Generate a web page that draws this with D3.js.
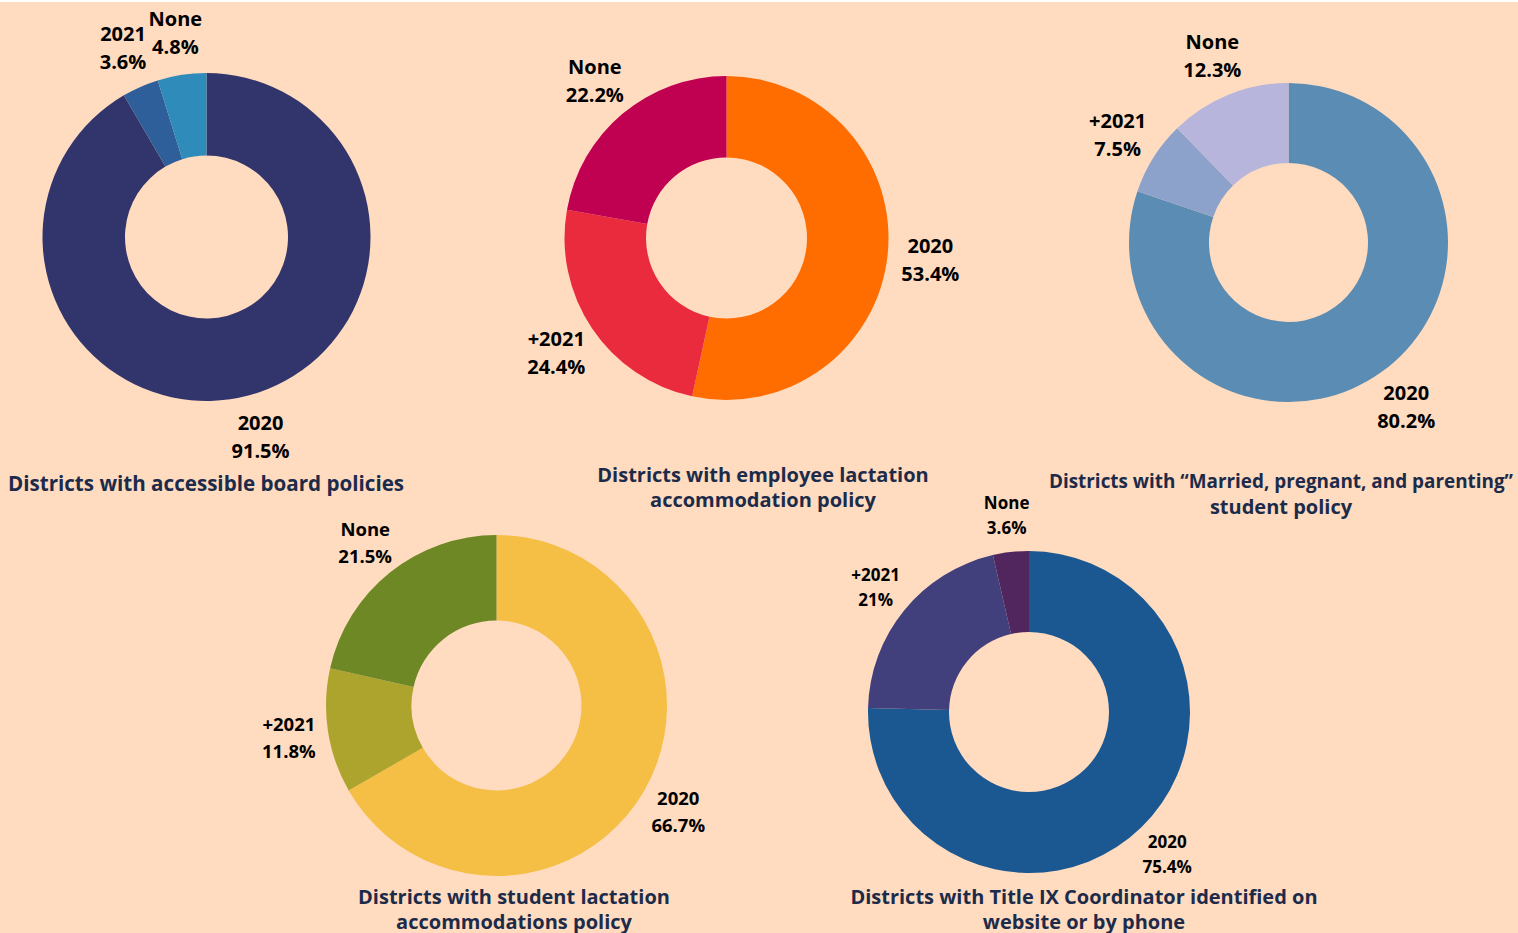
<!DOCTYPE html>
<html>
<head>
<meta charset="utf-8">
<title>District policies</title>
<script src="https://cdn.jsdelivr.net/npm/d3@7"></script>
<style>
  html, body { margin: 0; padding: 0; background: #ffffff; }
  svg { display: block; }
  .lbl { font-family: "Open Sans", sans-serif; font-weight: 700; fill: #000; }
  .ttl { font-family: "Open Sans", sans-serif; font-weight: 700; fill: #1c2b4a; }
</style>
</head>
<body>
<script>
// chart data
const categories = [
  ["2020", "2021", "None"],
  ["2020", "+2021", "None"],
  ["2020", "+2021", "None"],
  ["2020", "+2021", "None"],
  ["2020", "+2021", "None"]
];
const values = [
  [91.5, 3.6, 4.8],
  [53.4, 24.4, 22.2],
  [80.2, 7.5, 12.3],
  [66.7, 11.8, 21.5],
  [75.4, 21, 3.6]
];
const valueLabels = [
  ["91.5%", "3.6%", "4.8%"],
  ["53.4%", "24.4%", "22.2%"],
  ["80.2%", "7.5%", "12.3%"],
  ["66.7%", "11.8%", "21.5%"],
  ["75.4%", "21%", "3.6%"]
];
const colors = [
  ["#31356b", "#2e5f9a", "#2e8bba"],
  ["#ff6d00", "#ea2a3d", "#c00050"],
  ["#5b8db4", "#8ca2cb", "#b7b5dc"],
  ["#f5be45", "#ada42e", "#6e8826"],
  ["#1b5892", "#41407c", "#51265e"]
];
const titles = [
  ["Districts with accessible board policies"],
  ["Districts with employee lactation", "accommodation policy"],
  ["Districts with \u201cMarried, pregnant, and parenting\u201d", "student policy"],
  ["Districts with student lactation", "accommodations policy"],
  ["Districts with Title IX Coordinator identified on", "website or by phone"]
];

// layout of each donut on the page (tfs: font size of each title line)
const layout = [
  { cx: 206.5, cy: 237, r: 164, inner: 81.5, lr: 207, fs: 20, lh: 28, tx: 206, ty: 483, tfs: [20.6] },
  { cx: 726.5, cy: 238, r: 162, inner: 80.5, lr: 205, fs: 20, lh: 28, tx: 763, ty: 474, tfs: [20, 20] },
  { cx: 1288.5, cy: 242.5, r: 159.5, inner: 79.5, lr: 202, fs: 20, lh: 28, tx: 1281, ty: 481, tfs: [18.9, 20] },
  { cx: 496.5, cy: 705.5, r: 170.5, inner: 85, lr: 210, fs: 18.5, lh: 27, tx: 514, ty: 896, tfs: [20, 20] },
  { cx: 1029, cy: 712, r: 161, inner: 80, lr: 198, fs: 17, lh: 25, tx: 1084, ty: 896, tfs: [20, 20] }
];

const W = 1518, H = 933;
const svg = d3.select("body").append("svg").attr("width", W).attr("height", H);

svg.append("rect").attr("x", 0).attr("y", 2).attr("width", W).attr("height", H - 2)
  .attr("fill", "#ffdbbf");

const pie = d3.pie().sort(null).value(d => d.v);

layout.forEach((L, i) => {
  const rows = categories[i].map((c, j) => ({ c: c, v: values[i][j], t: valueLabels[i][j], col: colors[i][j] }));
  const arcs = pie(rows);
  const arc = d3.arc().innerRadius(L.inner).outerRadius(L.r);
  const labelArc = d3.arc().innerRadius(L.lr).outerRadius(L.lr);

  const g = svg.append("g").attr("transform", `translate(${L.cx},${L.cy})`);

  g.selectAll("path")
    .data(arcs)
    .enter()
    .append("path")
    .attr("d", arc)
    .attr("fill", d => d.data.col);

  const lbl = g.selectAll("text.lbl")
    .data(arcs)
    .enter()
    .append("text")
    .attr("class", "lbl")
    .attr("text-anchor", "middle")
    .attr("font-size", L.fs)
    .attr("transform", d => `translate(${labelArc.centroid(d)})`);
  lbl.append("tspan").attr("x", 0).attr("y", -L.lh / 2).attr("dominant-baseline", "central").text(d => d.data.c);
  lbl.append("tspan").attr("x", 0).attr("y", L.lh / 2).attr("dominant-baseline", "central").text(d => d.data.t);

  titles[i].forEach((line, k) => {
    svg.append("text")
      .attr("class", "ttl")
      .attr("text-anchor", "middle")
      .attr("font-size", L.tfs[k])
      .attr("x", L.tx)
      .attr("y", L.ty + k * 25)
      .attr("dominant-baseline", "central")
      .text(line);
  });
});
</script>
</body>
</html>
